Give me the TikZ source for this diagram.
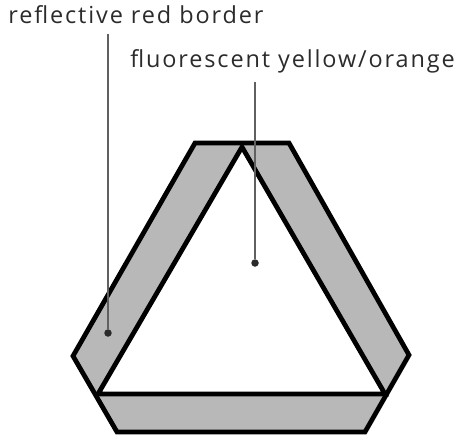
\documentclass[tikz,border=0pt]{standalone}
\usepackage{fontspec}
\setmainfont{Open Sans}
\usepackage{xcolor}
\usetikzlibrary{positioning}
\definecolor{bandgray}{HTML}{B8B8B8}
\definecolor{inkgray}{HTML}{2B2B2B}

\begin{document}
\begin{tikzpicture}[
    x=0.02cm, y=-0.02cm,
    band/.style={draw=black, line width=0.095cm, line join=miter, fill=bandgray},
    hole/.style={draw=black, line width=0.095cm, line join=miter, fill=white},
    label/.style={font=\addfontfeatures{LetterSpace=8}\fontsize{13.35}{16}\selectfont, text=inkgray, inner sep=0pt, anchor=base west},
    leader/.style={draw=inkgray!75, line width=0.6pt},
    dot/.style={circle, fill=inkgray, inner sep=0pt, minimum size=0.15cm}
]
\useasboundingbox (0,0) rectangle (459,439);

% Corners
\coordinate (tl) at (195,143);
\coordinate (tr) at (289,143);
\coordinate (ri) at (409,355);
\coordinate (br) at (365,432);
\coordinate (bl) at (117,432);
\coordinate (le) at (73,356);
\coordinate (apex) at (242,147);
\coordinate (cr) at (385,394);
\coordinate (cl) at (98,394);

% Sign
\draw[band] (tl) -- (tr) -- (ri) -- (br) -- (bl) -- (le) -- cycle;
\draw[hole] (apex) -- (cr) -- (cl) -- cycle;

% Labels
\node[label] (border) at (8,24) {reflective red border};
\node[label] (fluor) at (130,68) {fluorescent yellow/orange};
\node[dot] (dotb) at (108,333) {};
\node[dot] (dotf) at (255,263) {};
\coordinate (topb) at (108,34);
\coordinate (topf) at (255,82);

% Leaders
\draw[leader] (topb) -- (dotb);
\draw[leader] (topf) -- (dotf);

\end{tikzpicture}
\end{document}
